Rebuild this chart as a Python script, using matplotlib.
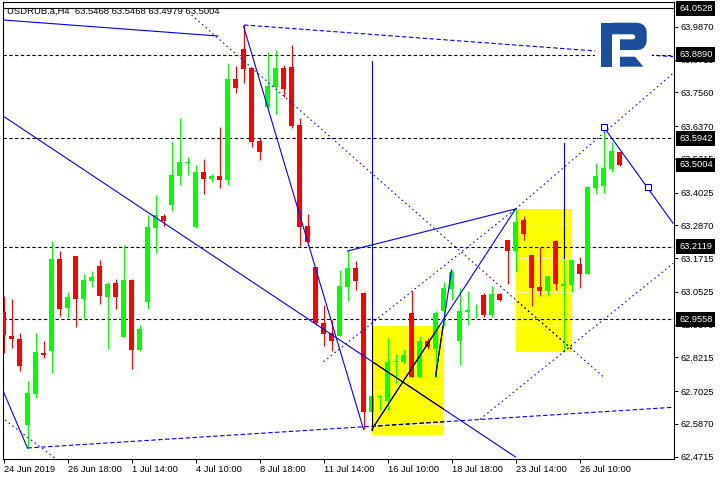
import matplotlib
matplotlib.use("Agg")
import matplotlib.pyplot as plt
from matplotlib.patches import Rectangle, Polygon

# H4 candles, USDRUB.a, 24 Jun - 26 Jul 2019
opens = [62.9818, 62.8983, 62.8866, 62.5844, 62.6937, 62.8383, 62.8454, 63.1687, 62.9970, 63.1793,
         63.0287, 63.0912, 63.1441, 63.0358, 63.0841, 62.8947, 63.0947, 62.8478, 63.0171, 63.2781,
         63.3204, 63.3602, 63.4625, 63.5073, 63.2826, 63.4755, 63.4519, 63.4614, 63.4473, 63.8035,
         63.9093, 63.8423, 63.5849, 63.7048, 63.7753, 63.8423, 63.8458, 63.6413, 63.2851, 63.1405,
         62.9430, 62.9078, 62.8983, 63.0711, 63.1381, 63.0488, 62.6302, 62.6821, 62.6680, 62.8055,
         62.8055, 62.9783, 62.7537, 62.8796, 62.8520, 62.9850, 63.0640, 62.8806, 62.9829, 62.9871,
         63.0418, 62.9712, 63.0453, 63.2357, 63.1980, 63.3063, 63.1828, 63.0711, 63.0570, 63.2311,
         63.0746, 63.0770, 63.1511, 63.1170, 63.4191, 63.4272, 63.4861, 63.5468]
highs = [63.0383, 63.0277, 62.9067, 62.7385, 62.9088, 62.8796, 63.2322, 63.1969, 63.0524, 63.1800,
         63.1158, 63.1265, 63.1663, 63.0876, 63.0982, 63.2181, 63.0982, 62.9360, 63.3239, 63.3944,
         63.3274, 63.5824, 63.6670, 63.5295, 63.5002, 63.5214, 63.4685, 63.6353, 63.8610, 63.8504,
         63.9950, 63.8423, 63.5955, 63.8987, 63.9058, 63.8529, 63.9234, 63.6660, 63.3274, 63.1405,
         63.0052, 62.9536, 63.1299, 63.1969, 63.1617, 63.0524, 62.7667, 62.6891, 62.8902, 62.8337,
         62.8514, 63.0559, 62.8983, 62.8902, 62.9854, 63.0876, 63.1299, 63.0665, 63.0559, 63.0100,
         63.0488, 63.0735, 63.0488, 63.2357, 63.3451, 63.3204, 63.1828, 63.2111, 63.1088, 63.2357,
         63.1652, 63.1652, 63.1758, 63.4262, 63.5073, 63.6353, 63.5824, 63.5468]
lows = [62.8372, 62.8559, 62.7748, 62.5022, 62.6796, 62.8207, 62.7667, 62.9688, 62.9617, 62.9300,
        62.9536, 63.0700, 63.0111, 62.8524, 62.9935, 62.8937, 62.7819, 62.8443, 62.9935, 63.1909,
        63.2851, 63.3380, 63.4308, 63.4660, 63.2781, 63.3990, 63.4413, 63.4202, 63.4308, 63.7550,
        63.7905, 63.5648, 63.5179, 63.7012, 63.6801, 63.7400, 63.6318, 63.2146, 63.2146, 62.9360,
        62.8630, 62.8454, 62.8972, 63.0217, 63.0605, 62.5682, 62.5657, 62.6352, 62.6362, 62.7304,
        62.7995, 62.7537, 62.7527, 62.8503, 62.7537, 62.9325, 63.0242, 62.7949, 62.9360, 62.9607,
        62.9652, 62.9652, 63.0217, 63.0806, 63.1240, 63.2357, 63.0040, 63.0393, 63.0393, 63.0605,
        62.8408, 63.0535, 63.0675, 63.1170, 63.3990, 63.4025, 63.4755, 63.4979]
closes = [62.9007, 62.8856, 62.7925, 62.6962, 62.8408, 62.8312, 63.1687, 62.9935, 63.0347, 63.0287,
          63.0947, 63.1053, 63.0393, 63.0806, 63.0358, 63.0947, 62.8478, 62.9219, 63.2816, 63.3239,
          63.3028, 63.4650, 63.5108, 63.5108, 63.4755, 63.4519, 63.4614, 63.4484, 63.8035, 63.7707,
          63.8398, 63.5813, 63.5471, 63.7788, 63.8423, 63.7682, 63.6367, 63.2826, 63.2297, 62.9430,
          62.9043, 62.8796, 63.0735, 63.1381, 63.0922, 62.6302, 62.6856, 62.6867, 62.8055, 62.8100,
          62.8302, 62.7537, 62.8796, 62.8595, 62.9783, 63.0665, 63.1230, 62.9854, 62.9889, 62.9889,
          62.9712, 63.0453, 63.0242, 63.1980, 63.2992, 63.2569, 63.0675, 63.0570, 63.1088, 63.0816,
          63.0816, 63.1652, 63.1170, 63.4226, 63.4614, 63.4897, 63.5507, 63.5004]

date_ticks = [0, 8, 16, 24, 32, 40, 48, 56, 64, 72]
date_labels = ["24 Jun 2019", "26 Jun 18:00", "1 Jul 14:00", "4 Jul 10:00", "8 Jul 18:00",
               "11 Jul 14:00", "16 Jul 10:00", "18 Jul 18:00", "23 Jul 14:00", "26 Jul 10:00"]
price_ticks = [63.9870, 63.8715, 63.7560, 63.6370, 63.5215, 63.4025, 63.2870, 63.1715,
               63.0525, 62.9370, 62.8215, 62.7025, 62.5870, 62.4715]

top_line = 64.0528
levels = [63.8890, 63.5942, 63.2119, 62.9558]
last_price = 63.5004

# analyst drawings: (x0, y0, x1, y1, style)
trend_lines = [
    (-0.06, 64.0116, 26.8, 63.9551, "solid"),
    (30.06, 63.9940, 83.7, 63.8821, "dashed"),
    (23.5, 64.0292, 75.0, 62.7526, "dotted"),
    (-0.06, 63.6730, 64.0, 62.4705, "solid"),
    (30.0, 63.9900, 45.0, 62.5682, "solid"),
    (-0.06, 62.7043, 3.0, 62.5022, "solid"),
    (3.0, 62.5022, 83.7, 62.6457, "dashed"),
    (0.19, 62.6010, 7.0, 62.4540, "dotted"),
    (43.0, 63.1969, 64.0, 63.3451, "solid"),
    (46.0, 62.5657, 64.0, 63.3451, "solid"),
    (40.0, 62.8066, 64.0, 63.3451, "dotted"),
    (64.0, 63.3451, 83.7, 63.8236, "dotted"),
    (59.56, 62.6034, 83.72, 63.1536, "dotted"),
    (75.0, 63.6353, 83.7, 63.2946, "solid"),
    (54.0, 62.7537, 56.0, 63.1299, "solid"),
    (46.0, 62.5657, 46.0, 63.8670, "solid"),
    (70.0, 63.1723, 70.0, 63.5778, "solid"),
]
markers_x = [75.0, 80.5]
markers_y = [63.6353, 63.4216]

# yellow boxes: (x0, x1, y0, y1)
boxes = [(46.0, 55.0, 62.5480, 62.9325), (64.0, 71.0, 62.8400, 63.3460)]

styles = {"solid": "-", "dashed": (0, (4, 2.2)), "dotted": (0, (1.4, 2.8))}
blue = "#0000ff"

fig = plt.figure(figsize=(7.2, 4.8), dpi=100)
ax = fig.add_axes([3 / 720, 21 / 480, 671 / 720, 457 / 480])
ax.set_xlim(-0.0625, 83.81)
ax.set_ylim(62.4634, 64.0750)

rects = []
for x0, x1, y0, y1 in boxes:
    r = Rectangle((x0, y0), x1 - x0, y1 - y0, facecolor="#ffff00", edgecolor="none", zorder=1)
    ax.add_patch(r)
    rects.append(r)

# grid levels show through the boxes as white dashes
for r in rects:
    for p in price_ticks:
        ln = ax.axhline(p, color="white", lw=0.8, ls=(0, (3, 2)), zorder=1.5)
        ln.set_clip_path(r)

ax.axhline(top_line, color="black", lw=0.8, zorder=3)
for p in levels:
    ax.axhline(p, color="black", lw=0.8, ls=(0, (3, 2.2)), zorder=3)

# candles
idx = list(range(len(opens)))
for i in idx:
    o, h, l, c = opens[i], highs[i], lows[i], closes[i]
    col = "#00ff00" if c >= o else "#ff0000"
    ax.vlines(i, l, h, color=col, lw=0.8, zorder=4)
    ax.bar(i, max(abs(c - o), 0.0035), bottom=min(o, c), width=0.625, color=col,
           linewidth=0, zorder=4)

for x0, y0, x1, y1, st in trend_lines:
    ax.plot([x0, x1], [y0, y1], color=blue, lw=0.8, ls=styles[st], zorder=5)
    for r in rects:
        ln, = ax.plot([x0, x1], [y0, y1], color="black", lw=0.8, ls=styles[st], zorder=5.5)
        ln.set_clip_path(r)
ax.plot(markers_x, markers_y, ls="none", marker="s", ms=4, mfc="white", mec=blue, mew=0.8, zorder=6)

for s in ax.spines.values():
    s.set_linewidth(0.8)

ax.set_xticks(date_ticks)
ax.set_xticklabels(date_labels)
for lab in ax.get_xticklabels():
    lab.set_horizontalalignment("left")
ax.yaxis.tick_right()
ax.set_yticks(price_ticks)
ax.set_yticklabels([f"{p:.4f}" for p in price_ticks])
ax.tick_params(axis="x", direction="out", length=3, width=0.7, pad=1.5, labelsize=6.7)
ax.tick_params(axis="y", direction="out", length=3, width=0.7, pad=1.5, labelsize=6.7)
for lab in ax.get_xticklabels() + ax.get_yticklabels():
    lab.set_fontfamily("Liberation Sans")

ytr = ax.get_yaxis_transform()
for p in [top_line] + levels + [last_price]:
    ax.text(1.0075, p, f"{p:.4f}", transform=ytr, ha="left", va="center", color="white",
            fontsize=6.7, family="Liberation Sans", zorder=10, clip_on=False,
            bbox=dict(boxstyle="square,pad=0.3", facecolor="black", edgecolor="none"))

fig.text(7 / 720, 1 - 11 / 480, "USDRUB.a,H4  63.5468 63.5468 63.4979 63.5004",
         fontsize=6.8, family="Liberation Sans", va="center", ha="left")


# broker logo, top right
def fp(x, y):
    return (x / 720, 1 - y / 480)


fig.add_artist(Rectangle(fp(595, 70), 56.7 / 720, 53 / 480, transform=fig.transFigure,
                         facecolor="white", edgecolor="none", zorder=7))
logo_col = "#1a4e9c"
stem = [(600.7, 22.7), (611.7, 22.7), (611.7, 66.7), (600.7, 66.7)]
bowl = [(611.7, 22.7), (637, 22.7), (641, 23.5), (644, 25.5), (646, 28.5), (646.7, 32),
        (646.7, 41), (646, 44.5), (644, 47.5), (641, 49.5), (637, 50), (620, 50), (620, 39.3),
        (633, 39.3), (634.6, 38.6), (635.3, 37), (634.6, 35), (633, 34.3), (611.7, 34.3)]
leg = [(620, 56.7), (635, 56.7), (643.3, 66.7), (620, 66.7)]
for shape in (stem, bowl, leg):
    fig.add_artist(Polygon([fp(x, y) for x, y in shape], closed=True, transform=fig.transFigure,
                           facecolor=logo_col, edgecolor="none", zorder=8))

fig.savefig("out.png", dpi=100)
